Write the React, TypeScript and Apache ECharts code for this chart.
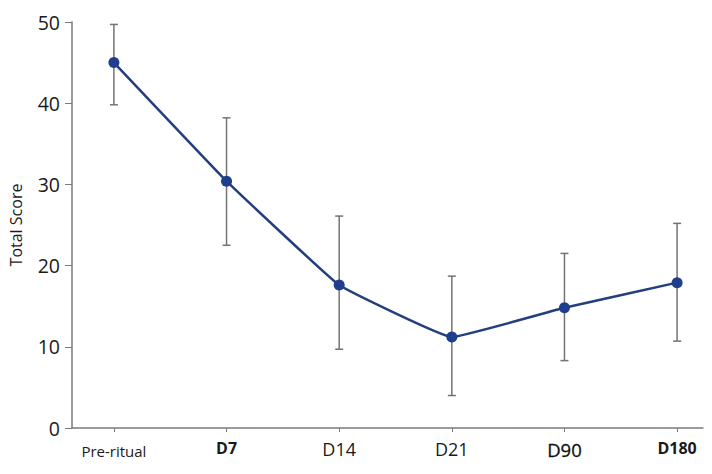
import React, { useEffect, useRef } from "react";
import * as echarts from "echarts";

// Time points and mean total score with lower / upper error limits
const timepoints = ["Pre-ritual", "D7", "D14", "D21", "D90", "D180"];
const meanScore = [45.0, 30.4, 17.6, 11.2, 14.8, 17.9];
const lowerLimit = [39.8, 22.5, 9.7, 4.0, 8.3, 10.7];
const upperLimit = [49.7, 38.2, 26.1, 18.7, 21.5, 25.2];
const yTicks = [0, 10, 20, 30, 40, 50];

// Per-label text style names (some time points are set in bold)
const labelStyles = ["pre", "bold", "reg", "reg", "mid", "bold"];

const FONT = "'Open Sans', 'Noto Sans', sans-serif";

export default function App() {
  const ref = useRef<HTMLDivElement>(null);

  useEffect(() => {
    if (!ref.current) return;
    const chart = echarts.init(ref.current, null, { renderer: "svg" });

    const positions = timepoints.map((_, i) => i);
    const lineData = meanScore.map((v, i) => [i, v]);
    const errData = meanScore.map((_, i) => [i, lowerLimit[i], upperLimit[i]]);

    chart.setOption({
      animation: false,
      backgroundColor: "#ffffff",
      grid: { left: 70, right: 9, top: 22, bottom: 46, containLabel: false },
      xAxis: {
        type: "value",
        min: -0.372,
        max: 5.23,
        splitLine: { show: false },
        axisLine: { show: true, onZero: false, lineStyle: { color: "#7a7a7a", width: 1.5 } },
        axisTick: {
          show: true,
          customValues: positions,
          length: 4,
          lineStyle: { color: "#7a7a7a", width: 1 },
        },
        axisLabel: {
          customValues: positions,
          margin: 12,
          color: "#1a1a1a",
          fontFamily: FONT,
          formatter: (v: number) => {
            const i = Math.round(v);
            const name = timepoints[i];
            if (name === undefined) return "";
            return `{${labelStyles[i]}|${name}}`;
          },
          rich: {
            pre: { fontSize: 15, fontFamily: FONT, color: "#1a1a1a", padding: [3, 0, 0, 0] },
            reg: { fontSize: 18, fontFamily: FONT, color: "#1a1a1a" },
            mid: { fontSize: 18.5, fontFamily: FONT, color: "#111111", textBorderColor: "#111111", textBorderWidth: 0.3 },
            bold: { fontSize: 16, fontWeight: "bold", fontFamily: FONT, color: "#1a1a1a" },
          },
        },
      },
      yAxis: {
        type: "value",
        min: yTicks[0],
        max: yTicks[yTicks.length - 1],
        interval: 10,
        name: "Total Score",
        nameLocation: "middle",
        nameGap: 48,
        nameTextStyle: { fontSize: 16, fontFamily: FONT, color: "#1a1a1a" },
        splitLine: { show: false },
        axisLine: { show: true, onZero: false, lineStyle: { color: "#7a7a7a", width: 1.5 } },
        axisTick: { show: true, length: 7, lineStyle: { color: "#7a7a7a", width: 1 } },
        axisLabel: { fontSize: 19.5, fontFamily: FONT, color: "#1a1a1a", margin: 12 },
      },
      series: [
        {
          type: "custom",
          name: "error",
          z: 1,
          data: errData,
          encode: { x: 0, y: [1, 2] },
          renderItem: (params: any, api: any) => {
            const x = api.value(0);
            const lo = api.coord([x, api.value(1)]);
            const hi = api.coord([x, api.value(2)]);
            const cap = 4;
            const style = { stroke: "#737373", lineWidth: 1.5 };
            return {
              type: "group",
              children: [
                { type: "line", shape: { x1: lo[0], y1: lo[1], x2: hi[0], y2: hi[1] }, style },
                { type: "line", shape: { x1: hi[0] - cap, y1: hi[1], x2: hi[0] + cap, y2: hi[1] }, style },
                { type: "line", shape: { x1: lo[0] - cap, y1: lo[1], x2: lo[0] + cap, y2: lo[1] }, style },
              ],
            };
          },
        },
        {
          type: "line",
          name: "Total Score",
          z: 3,
          data: lineData,
          smooth: 0.08,
          symbol: "circle",
          symbolSize: 11,
          lineStyle: { color: "#233f7e", width: 2.5 },
          itemStyle: { color: "#1f3f8c" },
        },
      ],
    });

    return () => chart.dispose();
  }, []);

  return <div ref={ref} style={{ width: 712, height: 474, position: "absolute", left: 0, top: 0 }} />;
}
